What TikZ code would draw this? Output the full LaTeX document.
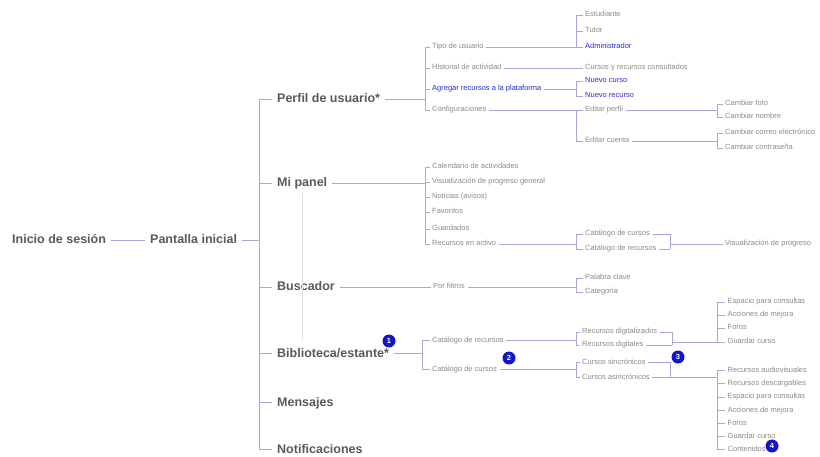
\documentclass[tikz,border=0pt]{standalone}
\usepackage{fontspec}
\setmainfont{Liberation Sans}
\definecolor{maintxt}{HTML}{5A5A5A}
\definecolor{leaftxt}{HTML}{8A8A8A}
\definecolor{bluetxt}{HTML}{2B2BD0}
\definecolor{linec}{HTML}{A8A8D8}
\definecolor{faintc}{HTML}{DDDDDD}
\definecolor{badgec}{HTML}{1414C8}
\tikzset{
  lbl/.style={anchor=west, inner ysep=0pt, inner xsep=5pt,
    font=\fontsize{12.5}{14}\selectfont\bfseries, text=maintxt,
    text height=9pt, text depth=1pt},
  leaf/.style={anchor=west, inner ysep=0pt, inner xsep=2.5pt,
    font=\fontsize{7.5}{9}\selectfont, text=leaftxt,
    text height=5.5pt, text depth=1.5pt},
  blu/.style={leaf, text=bluetxt},
  ln/.style={draw=linec, line width=0.7pt},
  badge/.style={circle, fill=badgec, text=white, inner sep=0pt,
    minimum size=13pt, font=\fontsize{7.5}{8}\selectfont\bfseries},
}
% parent -> spine at x of #1, spine from #3 to #4, ticks to every child in #5
\newcommand\brfork[5]{%
  \draw[ln] (#2.east) -- (#2.east -| #1);
  \draw[ln] (#3.west -| #1) -- (#4.west -| #1);
  \foreach \c in {#5} { \draw[ln] (\c.west -| #1) -- (\c.west); }
}
% closing bracket: ticks from the right end of each child to the spine at x of #1
\newcommand\brjoin[4]{%
  \draw[ln] (#2.east -| #1) -- (#3.east -| #1);
  \foreach \c in {#4} { \draw[ln] (\c.east) -- (\c.east -| #1); }
}
\begin{document}
\begin{tikzpicture}[x=1pt,y=-1pt]
\fill[white] (0,0) rectangle (820,457);
\useasboundingbox (0,0) rectangle (820,457);

% spine positions
\coordinate (xt) at (259,0);
\coordinate (xa) at (425,0);
\coordinate (xb) at (422,0);
\coordinate (xc) at (576,0);
\coordinate (xd) at (717,0);
\coordinate (xe) at (670,0);
\coordinate (xf) at (672,0);

% root
\node[lbl] (ini) at (7,240) {Inicio de sesión};
\node[lbl] (pant) at (145,240) {Pantalla inicial};
\draw[ln] (ini.east) -- (pant.west);

% first level
\node[lbl] (perfil) at (272,99) {Perfil de usuario*};
\node[lbl] (mipanel) at (272,183) {Mi panel};
\node[lbl] (busc) at (272,287) {Buscador};
\node[lbl] (bibl) at (272,353) {Biblioteca/estante*};
\node[lbl] (mens) at (272,402) {Mensajes};
\node[lbl] (notif) at (272,449) {Notificaciones};
\brfork{xt}{pant}{perfil}{notif}{perfil,mipanel,busc,bibl,mens,notif}

% faint guide under Mi panel
\coordinate (g1) at (302,193);
\coordinate (g2) at (302,340);
\draw[draw=faintc, line width=0.6pt] (g1) -- (g2);

% Perfil de usuario
\node[leaf] (tipo) at (429.5,47) {Tipo de usuario};
\node[leaf] (hist) at (429.5,68) {Historial de actividad};
\node[blu]  (agreg) at (429.5,89) {Agregar recursos a la plataforma};
\node[leaf] (config) at (429.5,110) {Configuraciones};
\brfork{xa}{perfil}{tipo}{config}{tipo,hist,agreg,config}

\node[leaf] (estud) at (582.5,15) {Estudiante};
\node[leaf] (tutor) at (582.5,31) {Tutor};
\node[blu]  (admin) at (582.5,47) {Administrador};
\brfork{xc}{tipo}{estud}{admin}{estud,tutor,admin}

\node[leaf] (cursosc) at (582.5,68) {Cursos y recursos consultados};
\draw[ln] (hist.east) -- (cursosc.west);

\node[blu] (nuevoc) at (582.5,81) {Nuevo curso};
\node[blu] (nuevor) at (582.5,96) {Nuevo recurso};
\brfork{xc}{agreg}{nuevoc}{nuevor}{nuevoc,nuevor}

\node[leaf] (edperf) at (582.5,110) {Editar perfil};
\node[leaf] (edcta) at (582.5,141) {Editar cuenta};
\brfork{xc}{config}{edperf}{edcta}{edperf,edcta}

\node[leaf] (cfoto) at (722.5,104) {Cambiar foto};
\node[leaf] (cnombre) at (722.5,117) {Cambiar nombre};
\brfork{xd}{edperf}{cfoto}{cnombre}{cfoto,cnombre}

\node[leaf] (ccorreo) at (722.5,133) {Cambiar correo electrónico};
\node[leaf] (ccontra) at (722.5,148) {Cambiar contraseña};
\brfork{xd}{edcta}{ccorreo}{ccontra}{ccorreo,ccontra}

% Mi panel
\node[leaf] (cal) at (429.5,167) {Calendario de actividades};
\node[leaf] (vis) at (429.5,182) {Visualización de progreso general};
\node[leaf] (noti) at (429.5,197) {Noticias (avisos)};
\node[leaf] (fav) at (429.5,212) {Favoritos};
\node[leaf] (guard) at (429.5,229) {Guardados};
\node[leaf] (recact) at (429.5,244) {Recursos en activo};
\brfork{xa}{mipanel}{cal}{recact}{cal,vis,noti,fav,guard,recact}

\node[leaf] (catc) at (582.5,234) {Catálogo de cursos};
\node[leaf] (catr) at (582.5,249) {Catálogo de recursos};
\brfork{xc}{recact}{catc}{catr}{catc,catr}
\brjoin{xe}{catc}{catr}{catc,catr}
\node[leaf] (vprog) at (722.5,244) {Visualización de progreso};
\draw[ln] (vprog.west -| xe) -- (vprog.west);

% Buscador
\node[leaf] (pfil) at (430.5,287) {Por filtros};
\draw[ln] (busc.east) -- (pfil.west);
\node[leaf] (pclave) at (582.5,278) {Palabra clave};
\node[leaf] (categ) at (582.5,292) {Categoría};
\brfork{xc}{pfil}{pclave}{categ}{pclave,categ}

% Biblioteca/estante
\node[leaf] (bcatr) at (429.5,340) {Catálogo de recursos};
\node[leaf] (bcatc) at (429.5,369) {Catálogo de cursos};
\brfork{xb}{bibl}{bcatr}{bcatc}{bcatr,bcatc}

\node[leaf] (rdigz) at (579.5,332) {Recursos digitalizados};
\node[leaf] (rdig) at (579.5,345) {Recursos digitales};
\brfork{xc}{bcatr}{rdigz}{rdig}{rdigz,rdig}
\brjoin{xf}{rdigz}{rdig}{rdigz,rdig}

\node[leaf] (esp1) at (725,302) {Espacio para consultas};
\node[leaf] (acc1) at (725,315) {Acciones de mejora};
\node[leaf] (for1) at (725,328) {Foros};
\node[leaf] (gua1) at (725,342) {Guardar curso};
\draw[ln] (gua1.west -| xf) -- (gua1.west -| xd);
\draw[ln] (esp1.west -| xd) -- (gua1.west -| xd);
\foreach \c in {esp1,acc1,for1,gua1} { \draw[ln] (\c.west -| xd) -- (\c.west); }

\node[leaf] (csinc) at (579.5,362) {Cursos sincrónicos};
\node[leaf] (casinc) at (579.5,377) {Cursos asincrónicos};
\brfork{xc}{bcatc}{csinc}{casinc}{csinc,casinc}
\brjoin{xe}{csinc}{casinc}{csinc,casinc}

\node[leaf] (raud) at (725,370) {Recursos audiovisuales};
\node[leaf] (rdesc) at (725,383) {Recursos descargables};
\node[leaf] (esp2) at (725,397) {Espacio para consultas};
\node[leaf] (acc2) at (725,410) {Acciones de mejora};
\node[leaf] (for2) at (725,423) {Foros};
\node[leaf] (gua2) at (725,436) {Guardar curso};
\node[leaf] (cont) at (725,449) {Contenidos};
\draw[ln] (casinc.east -| xe) -- (casinc.east -| xd);
\draw[ln] (raud.west -| xd) -- (cont.west -| xd);
\foreach \c in {raud,rdesc,esp2,acc2,for2,gua2,cont} { \draw[ln] (\c.west -| xd) -- (\c.west); }

% numbered markers
\node[badge] (m1) at (389,341) {1};
\node[badge] (m2) at (509,358) {2};
\node[badge] (m3) at (678,357) {3};
\node[badge] (m4) at (772,446) {4};
\end{tikzpicture}
\end{document}
